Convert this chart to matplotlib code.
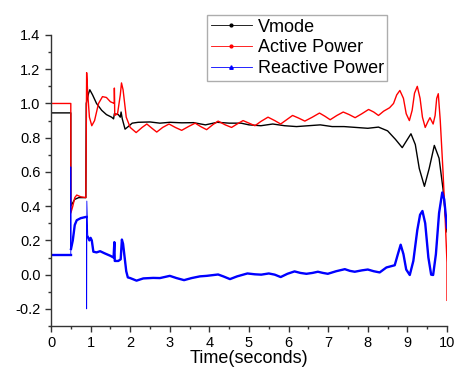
import matplotlib
matplotlib.use("Agg")
import matplotlib.pyplot as plt
from matplotlib.lines import Line2D
from matplotlib.ticker import MultipleLocator, FormatStrFormatter

plt.rcParams["font.family"] = ["Liberation Sans", "DejaVu Sans"]
plt.rcParams["axes.unicode_minus"] = False

# Vmode (black)
t_vmode = [0, 0.5, 0.5, 0.55, 0.6, 0.7, 0.88, 0.89, 0.95, 0.98, 1.05, 1.15, 1.28,
           1.4, 1.53, 1.58, 1.6, 1.7, 1.75, 1.77, 1.8, 1.87, 1.95, 2.05, 2.2, 2.5,
           2.75, 3.0, 3.3, 3.6, 3.9, 4.2, 4.5, 4.8, 5.0, 5.3, 5.6, 5.9, 6.2, 6.5,
           6.8, 7.1, 7.4, 7.7, 8.0, 8.27, 8.5, 8.7, 8.87, 9.0, 9.09, 9.2, 9.3,
           9.43, 9.55, 9.68, 9.8, 9.9, 10.0]
vmode = [0.945, 0.945, 0.40, 0.42, 0.44, 0.45, 0.45, 1.0, 1.06, 1.08, 1.05, 1.0, 0.96,
         0.935, 0.92, 0.91, 0.94, 0.935, 0.92, 0.95, 0.91, 0.85, 0.865, 0.885, 0.89, 0.892,
         0.885, 0.89, 0.887, 0.888, 0.875, 0.89, 0.885, 0.885, 0.875, 0.87, 0.88, 0.87, 0.865, 0.87,
         0.875, 0.865, 0.865, 0.86, 0.855, 0.862, 0.84, 0.79, 0.742, 0.79, 0.823, 0.76, 0.62,
         0.516, 0.62, 0.755, 0.68, 0.5, 0.25]

# Active Power (red)
t_active = [0, 0.5, 0.5, 0.55, 0.6, 0.65, 0.75, 0.88, 0.9, 0.93, 0.97, 1.03, 1.1, 1.2,
            1.3, 1.4, 1.5, 1.6, 1.6, 1.61, 1.68, 1.75, 1.78, 1.82, 1.9, 2.0, 2.15, 2.3,
            2.42, 2.55, 2.67, 2.82, 2.98, 3.14, 3.3, 3.47, 3.64, 3.78, 3.93, 4.08, 4.22,
            4.4, 4.56, 4.7, 4.85, 5.0, 5.15, 5.3, 5.48, 5.65, 5.8, 5.95, 6.1, 6.25, 6.41,
            6.6, 6.78, 6.92, 7.05, 7.22, 7.38, 7.53, 7.68, 7.85, 8.02, 8.15, 8.27, 8.4,
            8.55, 8.65, 8.73, 8.81, 8.9, 8.97, 9.05, 9.12, 9.18, 9.25, 9.32, 9.38, 9.45,
            9.52, 9.57, 9.65, 9.7, 9.74, 9.78, 9.83, 9.9, 9.95, 10.0, 10.0]
active = [1.0, 1.0, 0.36, 0.40, 0.45, 0.465, 0.455, 0.45, 1.18, 1.05, 0.92, 0.87, 0.9, 1.0,
          1.04, 1.035, 1.01, 1.0, 1.09, 0.93, 0.94, 1.05, 1.12, 1.08, 0.92, 0.86, 0.83, 0.86,
          0.88, 0.855, 0.833, 0.86, 0.88, 0.86, 0.843, 0.865, 0.885, 0.865, 0.847, 0.875, 0.897,
          0.875, 0.86, 0.88, 0.90, 0.885, 0.87, 0.895, 0.92, 0.90, 0.88, 0.905, 0.93, 0.915, 0.897,
          0.92, 0.944, 0.925, 0.905, 0.93, 0.95, 0.935, 0.917, 0.94, 0.965, 0.95, 0.93, 0.955,
          0.975, 1.0, 1.05, 1.076, 1.03, 0.94, 0.90, 0.96, 1.06, 1.10, 1.03, 0.92, 0.86,
          0.895, 0.917, 0.88, 0.93, 1.03, 1.057, 0.9, 0.6, 0.35, 0.07, -0.15]

# Reactive Power (blue)
t_reactive = [0, 0.5, 0.5, 0.505, 0.55, 0.6, 0.65, 0.75, 0.88, 0.9, 0.9, 0.905, 0.93, 0.97,
              1.0, 1.03, 1.07, 1.15, 1.24, 1.35, 1.5, 1.58, 1.6, 1.61, 1.7, 1.76, 1.79, 1.82,
              1.85, 1.9, 1.94, 2.0, 2.16, 2.33, 2.58, 2.75, 3.0, 3.17, 3.36, 3.55, 3.76, 3.93,
              4.22, 4.35, 4.52, 4.7, 4.96, 5.15, 5.31, 5.5, 5.65, 5.8, 5.97, 6.15, 6.3, 6.45,
              6.6, 6.74, 6.87, 6.99, 7.2, 7.42, 7.55, 7.67, 7.85, 8.0, 8.15, 8.3, 8.47, 8.68,
              8.76, 8.83, 8.9, 8.97, 9.06, 9.15, 9.25, 9.32, 9.38, 9.45, 9.53, 9.6, 9.65, 9.72,
              9.8, 9.88, 9.93, 10.0]
reactive = [0.114, 0.114, 0.63, 0.15, 0.2, 0.29, 0.318, 0.33, 0.337, 0.337, -0.2, 0.43, 0.22, 0.2,
            0.215, 0.2, 0.134, 0.13, 0.137, 0.125, 0.11, 0.10, 0.19, 0.08, 0.08, 0.09, 0.205, 0.18,
            0.12, 0.02, -0.016, -0.02, -0.035, -0.022, -0.019, -0.02, -0.007, -0.02, -0.032, -0.02, -0.01, -0.007,
            0.001, -0.01, -0.026, -0.01, 0.007, 0.002, 0.0, 0.007, 0.0, -0.014, 0.005, 0.019, 0.01, 0.005,
            0.01, 0.017, 0.01, 0.005, 0.02, 0.032, 0.022, 0.017, 0.025, 0.03, 0.02, 0.013, 0.042, 0.055,
            0.12, 0.175, 0.12, 0.03, -0.002, 0.08, 0.26, 0.35, 0.372, 0.3, 0.1, 0.0, -0.002, 0.12,
            0.36, 0.48, 0.44, 0.275]

labels = ["Vmode", "Active Power", "Reactive Power"]

fig = plt.figure(figsize=(4.57, 3.68), dpi=100)
ax = fig.add_axes([0.1116, 0.1141, 0.8665, 0.7908])

ax.plot(t_vmode, vmode, color="black", linewidth=1.0)
ax.plot(t_active, active, color="red", linewidth=1.0)

# thin trace for the switching spikes, thick trace for the settled parts
ax.plot(t_reactive, reactive, color="blue", linewidth=0.6)
for i0, i1 in [(0, 2), (3, 10), (12, len(t_reactive))]:
    ax.plot(t_reactive[i0:i1], reactive[i0:i1], color="blue", linewidth=1.7)

ax.set_xlim(0, 10)
ax.set_ylim(-0.3, 1.4)
ax.xaxis.set_major_locator(MultipleLocator(1))
ax.xaxis.set_minor_locator(MultipleLocator(0.5))
ax.yaxis.set_major_locator(MultipleLocator(0.2))
ax.yaxis.set_minor_locator(MultipleLocator(0.1))
ax.yaxis.set_major_formatter(FormatStrFormatter("%.1f"))

for side in ("top", "right"):
    ax.spines[side].set_visible(False)
for side in ("left", "bottom"):
    ax.spines[side].set_linewidth(1.0)
    ax.spines[side].set_color("#333333")

ax.tick_params(which="major", direction="out", length=4, width=1, labelsize=10.5,
               color="#333333")
ax.tick_params(which="minor", direction="out", length=2.5, width=1, color="#333333")
ax.set_xlabel("Time(seconds)", fontsize=13, labelpad=0)

handles = [
    Line2D([], [], color="black", linewidth=0.6, marker="o", markersize=2),
    Line2D([], [], color="red", linewidth=0.6, marker="o", markersize=2),
    Line2D([], [], color="blue", linewidth=0.6, marker="^", markersize=2.5),
]
leg = fig.legend(handles, labels, loc="upper left", bbox_to_anchor=(0.453, 0.959),
                 bbox_transform=fig.transFigure, fontsize=13, frameon=True,
                 fancybox=False, borderaxespad=0, handlelength=2.3, handletextpad=0.3,
                 labelspacing=0.2, borderpad=0.2)
leg.get_frame().set_edgecolor("#999999")
leg.get_frame().set_linewidth(1.0)

fig.savefig("out.png", dpi=100)
